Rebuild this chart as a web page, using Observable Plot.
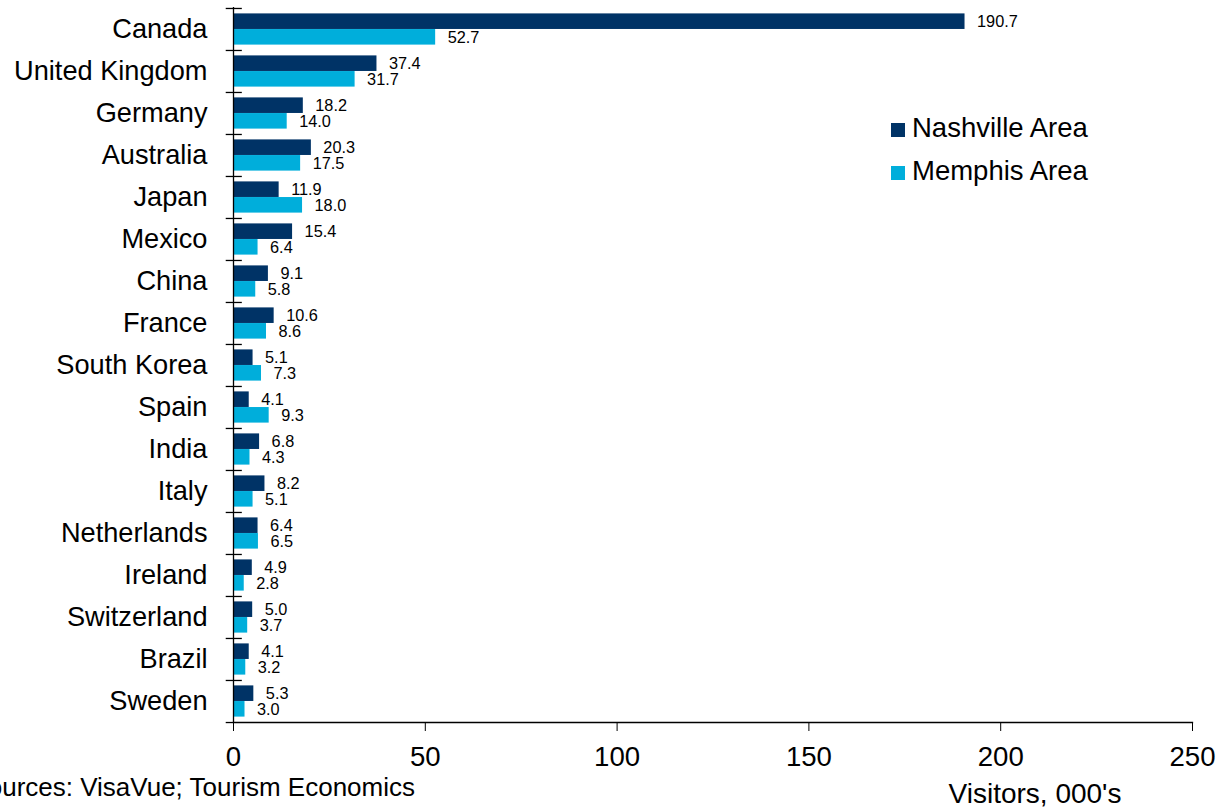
<!DOCTYPE html>
<html>
<head>
<meta charset="utf-8">
<script src="https://cdn.jsdelivr.net/npm/d3@7"></script>
<script src="https://cdn.jsdelivr.net/npm/@observablehq/plot@0.6"></script>
<style>
  html, body { margin: 0; padding: 0; background: #fff; overflow: hidden; }
  #wrap { position: relative; width: 1221px; height: 808px; font-family: "Liberation Sans", Arial, sans-serif; color: #000; }
  .abs { position: absolute; white-space: nowrap; font-size: 28px; line-height: 28px; }
  .sw { position: absolute; width: 14px; height: 14px; }
</style>
</head>
<body>
<div id="wrap"></div>
<script>
const categories = ["Canada", "United Kingdom", "Germany", "Australia", "Japan", "Mexico", "China", "France", "South Korea", "Spain", "India", "Italy", "Netherlands", "Ireland", "Switzerland", "Brazil", "Sweden"];
const nashville = [190.7, 37.4, 18.2, 20.3, 11.9, 15.4, 9.1, 10.6, 5.1, 4.1, 6.8, 8.2, 6.4, 4.9, 5.0, 4.1, 5.3];
const memphis = [52.7, 31.7, 14.0, 17.5, 18.0, 6.4, 5.8, 8.6, 7.3, 9.3, 4.3, 5.1, 6.5, 2.8, 3.7, 3.2, 3.0];
const seriesNames = ["Nashville Area", "Memphis Area"];
const seriesColors = ["#003366", "#00AEDB"];
const xTicks = [0, 50, 100, 150, 200, 250];
const xLabel = "Visitors, 000's";
const sourceText = "Sources: VisaVue; Tourism Economics";

const nash = categories.map((c, i) => ({category: c, value: nashville[i]}));
const mem = categories.map((c, i) => ({category: c, value: memphis[i]}));

const step = (808 - 7 - 86) / categories.length;
const pad = 5.4;
const barH = (step - 2 * pad) / 2;
const fmt = d3.format(".1f");

const chart = Plot.plot({
  width: 1221,
  height: 808,
  marginLeft: 233,
  marginRight: 29,
  marginTop: 7,
  marginBottom: 86,
  style: {fontFamily: "'Liberation Sans', Arial, sans-serif", fontSize: "27px", color: "#000", background: "#fff", overflow: "visible"},
  x: {domain: [0, 250]},
  y: {domain: categories, padding: 0},
  marks: [
    Plot.barX(nash, {y: "category", x: "value", fill: seriesColors[0], insetTop: pad, insetBottom: step - pad - barH}),
    Plot.barX(mem, {y: "category", x: "value", fill: seriesColors[1], insetTop: pad + barH, insetBottom: pad}),
    Plot.text(nash, {y: "category", x: "value", text: d => fmt(d.value), dy: -barH / 2, dx: 12, textAnchor: "start", fontSize: 16.3, fill: "#000"}),
    Plot.text(mem, {y: "category", x: "value", text: d => fmt(d.value), dy: barH / 2, dx: 12, textAnchor: "start", fontSize: 16.3, fill: "#000"}),
    Plot.ruleX([0], {stroke: "#000", strokeWidth: 1.3}),
    Plot.frame({anchor: "bottom", stroke: "#000", strokeWidth: 1.3}),
    Plot.ruleY(categories, {y: d => d, dy: -step / 2, x1: -1.9, x2: 2.3, stroke: "#000", strokeWidth: 1.3}),
    Plot.ruleY(categories.slice(-1), {y: d => d, dy: step / 2, x1: -1.9, x2: 0, stroke: "#000", strokeWidth: 1.3}),
    Plot.axisY({tickSize: 0, tickPadding: 26, label: null, fontSize: 27.2}),
    Plot.axisX({ticks: xTicks, tickSize: 9, tickPadding: 15, tickFormat: d => d, label: null, fontSize: 27.6})
  ]
});

const wrap = document.getElementById("wrap");
wrap.appendChild(chart);

// Legend
const legendTops = [114, 157];
seriesNames.forEach((name, i) => {
  const sw = document.createElement("div");
  sw.className = "sw";
  sw.style.left = "891px";
  sw.style.top = (legendTops[i] + 9) + "px";
  sw.style.background = seriesColors[i];
  wrap.appendChild(sw);
  const t = document.createElement("div");
  t.className = "abs";
  t.style.left = "912px";
  t.style.top = legendTops[i] + "px";
  t.style.fontSize = "27.5px";
  t.textContent = name;
  wrap.appendChild(t);
});

// Axis title
const xl = document.createElement("div");
xl.className = "abs";
xl.style.left = "1035px";
xl.style.top = "780px";
xl.style.transform = "translateX(-50%)";
xl.textContent = xLabel;
wrap.appendChild(xl);

// Source
const src = document.createElement("div");
src.className = "abs";
src.style.right = (1221 - 415) + "px";
src.style.top = "774px";
src.style.fontSize = "26px";
src.style.lineHeight = "26px";
src.textContent = sourceText;
wrap.appendChild(src);
</script>
</body>
</html>
